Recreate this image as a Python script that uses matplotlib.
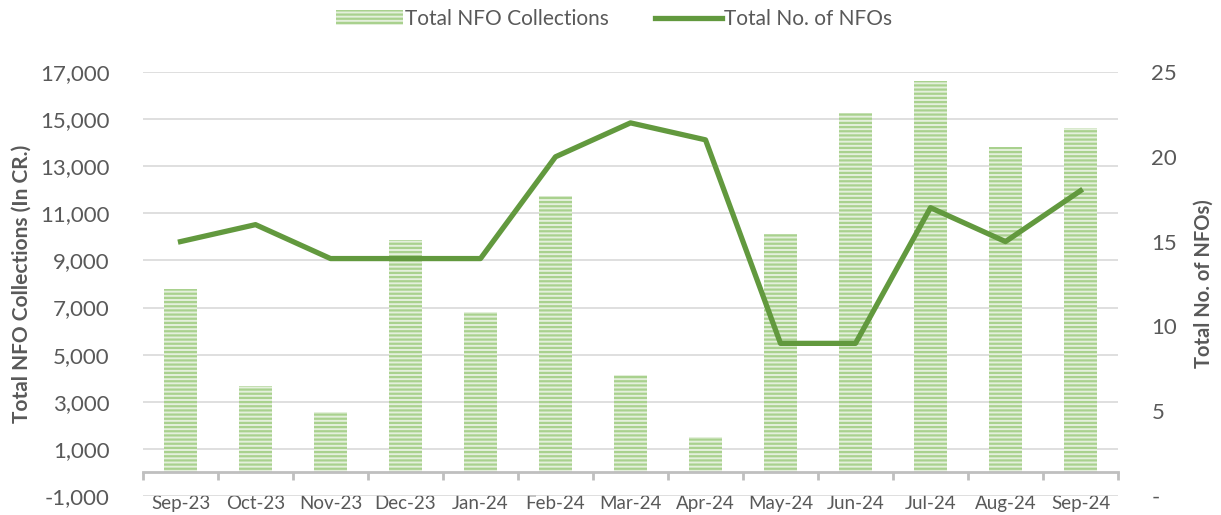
import matplotlib.pyplot as plt
import numpy as np
from matplotlib.ticker import FuncFormatter

plt.rcParams['font.family'] = ['Lato', 'DejaVu Sans']
plt.rcParams['hatch.linewidth'] = 1.6

months = ["Sep-23", "Oct-23", "Nov-23", "Dec-23", "Jan-24", "Feb-24", "Mar-24",
          "Apr-24", "May-24", "Jun-24", "Jul-24", "Aug-24", "Sep-24"]
collections = [7800, 3650, 2580, 9870, 6810, 11730, 4120, 1500, 10130, 15250, 16620, 13820, 14620]
nfo_count = [15, 16, 14, 14, 14, 20, 22, 21, 9, 9, 17, 15, 18]

text_col = '#595959'
line_col = '#62993e'

fig = plt.figure(figsize=(12.21, 5.15), dpi=100)
ax = fig.add_axes([143 / 1221, 1 - 496 / 515, 975 / 1221, 424 / 515])
x = np.arange(len(months))

bars = ax.bar(x, collections, width=0.45, color='#e4f0dc', edgecolor='#a9d18e',
              linewidth=0, hatch='----', zorder=2, label='Total NFO Collections')
ax.set_xlim(-0.5, len(months) - 0.5)
ax.set_ylim(-1000, 17000)
ax.set_yticks(np.arange(-1000, 17001, 2000))
ax.yaxis.set_major_formatter(FuncFormatter(lambda v, p: f"{int(v):,}"))
ax.grid(axis='y', color='#d9d9d9', linewidth=1.2, zorder=0)
ax.set_axisbelow(True)

for s in ['top', 'right', 'left']:
    ax.spines[s].set_visible(False)
ax.spines['bottom'].set_position(('data', 0))
ax.spines['bottom'].set_color('#bfbfbf')
ax.spines['bottom'].set_linewidth(2)

ax.set_xticks(x)
ax.set_xticklabels(months)
ax.set_xticks(np.arange(-0.5, len(months), 1), minor=True)
ax.tick_params(axis='x', which='major', length=0, pad=16, labelsize=13.5, labelcolor=text_col)
ax.tick_params(axis='x', which='minor', length=6, width=2, color='#bfbfbf')
ax.tick_params(axis='y', length=0, pad=24, labelsize=16, labelcolor=text_col)
ax.set_ylabel('Total NFO Collections (In CR.)', fontsize=15, fontweight='bold', color=text_col, labelpad=6)

ax2 = ax.twinx()
ax2.plot(x, nfo_count, color=line_col, linewidth=3.8, zorder=3, label='Total No. of NFOs')
ax2.set_ylim(0, 25)
ax2.set_yticks(np.arange(0, 26, 5))
ax2.yaxis.set_major_formatter(FuncFormatter(lambda v, p: '-' if v == 0 else f"{int(v)}"))
for s in ax2.spines.values():
    s.set_visible(False)
ax2.tick_params(axis='y', length=0, pad=24, labelsize=16, labelcolor=text_col)
ax2.set_ylabel('Total No. of NFOs)', fontsize=14.5, fontweight='bold', color=text_col, labelpad=12)

h1, l1 = ax.get_legend_handles_labels()
h2, l2 = ax2.get_legend_handles_labels()
leg = fig.legend(h1 + h2, l1 + l2, loc='center', bbox_to_anchor=(0.503, 0.963), ncol=2,
                 frameon=False, fontsize=15, columnspacing=2.2, handlelength=3.2, handletextpad=0.1)
for t in leg.get_texts():
    t.set_color(text_col)

fig.savefig('out.png', dpi=100)
